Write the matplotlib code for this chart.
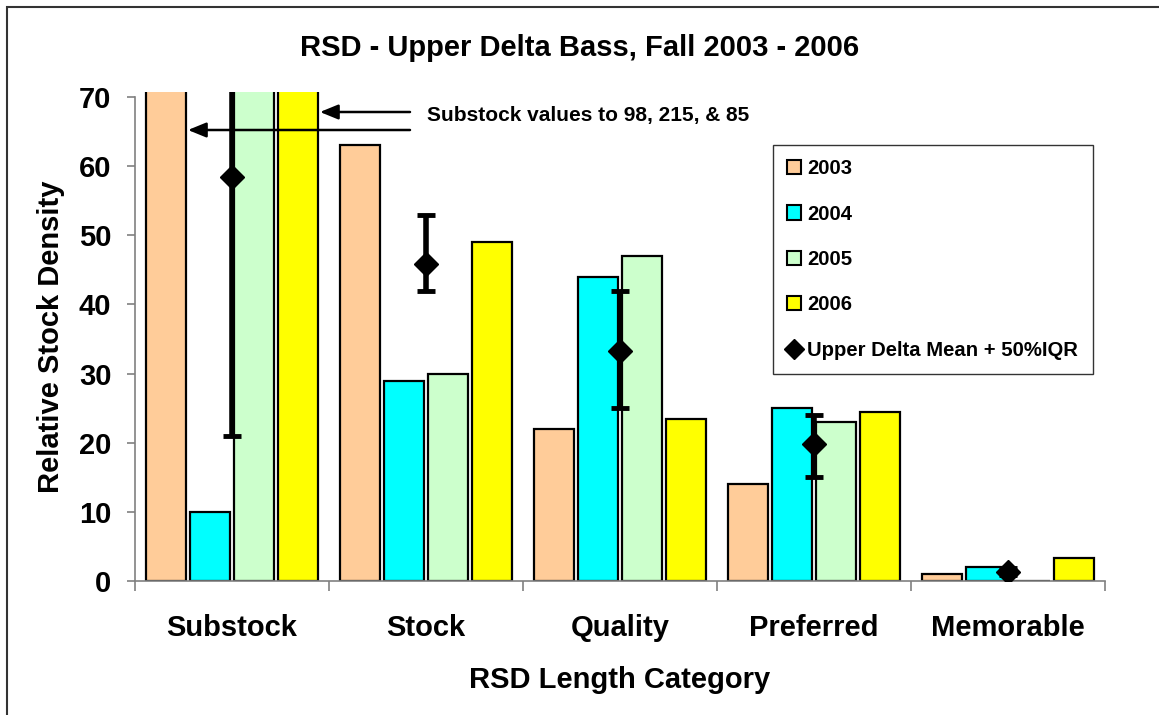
import matplotlib
matplotlib.use("Agg")
import matplotlib.pyplot as plt
from matplotlib.patches import Patch, Rectangle
from matplotlib.lines import Line2D
import numpy as np

plt.rcParams['font.family'] = ['Liberation Sans', 'DejaVu Sans']
plt.rcParams['font.weight'] = 'bold'

categories = ["Substock", "Stock", "Quality", "Preferred", "Memorable"]
years = ["2003", "2004", "2005", "2006"]
v2003 = [98, 63, 22, 14, 1.0]
v2004 = [10, 29, 44, 25, 2.0]
v2005 = [215, 30, 47, 23, 0]
v2006 = [85, 49, 23.4, 24.5, 3.3]
mean_vals = [58.5, 45.8, 33.3, 19.8, 1.35]
iqr_low = [21, 42, 25, 15, 0.8]
iqr_high = [95, 53, 42, 24, 1.9]
colors = ["#FFCC99", "#00FFFF", "#CCFFCC", "#FFFF00"]
mean_label = "Upper Delta Mean + 50%IQR"
title = "RSD - Upper Delta Bass, Fall 2003 - 2006"
note = "Substock values to 98, 215, & 85"

W, H = 1159, 715
fig = plt.figure(figsize=(W / 100, H / 100), dpi=100)
ax_left, ax_right, ax_bottom, ax_top = 135, 1105, 581, 92.2
ax = fig.add_axes([ax_left / W, 1 - ax_bottom / H, (ax_right - ax_left) / W, (ax_bottom - ax_top) / H])

x = np.arange(len(categories)) + 0.5
bw = 0.207
step = 0.227
series = [v2003, v2004, v2005, v2006]
for i, (vals, c) in enumerate(zip(series, colors)):
    ax.bar(x + (i - 1.5) * step, vals, width=bw, color=c, edgecolor="black", linewidth=1.6, zorder=2)

yerr = np.array([np.array(mean_vals) - np.array(iqr_low), np.array(iqr_high) - np.array(mean_vals)])
ax.errorbar(x, mean_vals, yerr=yerr, fmt="D", color="black", markersize=12,
            elinewidth=4, capsize=6.5, capthick=3.5, zorder=4)

ax.set_xlim(0, 5)
ax.set_ylim(0, 70.7)
ax.set_yticks(np.arange(0, 71, 10))
ax.set_xticks(np.arange(0, 6))
ax.set_xticklabels([])
ax.set_xticks(x, minor=True)
ax.set_xticklabels(categories, minor=True)
ax.tick_params(axis="x", which="minor", length=0, pad=24, labelsize=21)
ax.tick_params(axis="x", which="major", length=7, color="#808080", direction="out", width=1.2)
ax.tick_params(axis="y", length=6, color="#808080", direction="out", width=1.2, labelsize=21, pad=11)
for s in ["top", "right"]:
    ax.spines[s].set_visible(False)
for s in ["left", "bottom"]:
    ax.spines[s].set_color("#808080")
    ax.spines[s].set_linewidth(1.2)
ax.spines["left"].set_bounds(0, 70)

ax.set_ylabel("Relative Stock Density", fontsize=21, fontweight="bold", labelpad=10)
ax.set_xlabel("RSD Length Category", fontsize=21, fontweight="bold", labelpad=17)
fig.text(0.5, 1 - 48 / H, title, ha="center", va="center", fontsize=21, fontweight="bold")

def px2data_x(px):
    return (px - ax_left) / (ax_right - ax_left) * 5

def py2data_y(py):
    return (ax_bottom - py) / (ax_bottom - ax_top) * 70.7

arrow_kw = dict(arrowstyle="-|>,head_length=1.1,head_width=0.45", color="black", lw=1.8, shrinkA=0, shrinkB=0)
ax.annotate("", xy=(px2data_x(320), py2data_y(112)), xytext=(px2data_x(410), py2data_y(112)),
            arrowprops=arrow_kw, annotation_clip=False, zorder=5)
ax.annotate("", xy=(px2data_x(188), py2data_y(130)), xytext=(px2data_x(410), py2data_y(130)),
            arrowprops=arrow_kw, annotation_clip=False, zorder=5)
ax.text(px2data_x(427), py2data_y(116), note, ha="left", va="center", fontsize=15, fontweight="bold")

handles = [Patch(facecolor=c, edgecolor="black", linewidth=1.5, label=y) for c, y in zip(colors, years)]
handles.append(Line2D([], [], marker="D", color="black", linestyle="none", markersize=10, label=mean_label))
leg = fig.legend(handles=handles, loc="upper left", bbox_to_anchor=(773 / W, 1 - 145 / H),
                 frameon=True, fancybox=False, labelspacing=1.3,
                 handlelength=0.7, handleheight=0.7, handletextpad=0.3, borderpad=0.7,
                 borderaxespad=0, prop={"weight": "bold", "size": 14.6})
leg.get_frame().set_edgecolor("black")
leg.get_frame().set_linewidth(1.0)

fig.patches.append(Rectangle((7 / W, -0.05), 1.1, 1 - 7 / H + 0.05, transform=fig.transFigure,
                             fill=False, edgecolor="#333333", linewidth=1.5))

fig.savefig("out.png", dpi=100)
